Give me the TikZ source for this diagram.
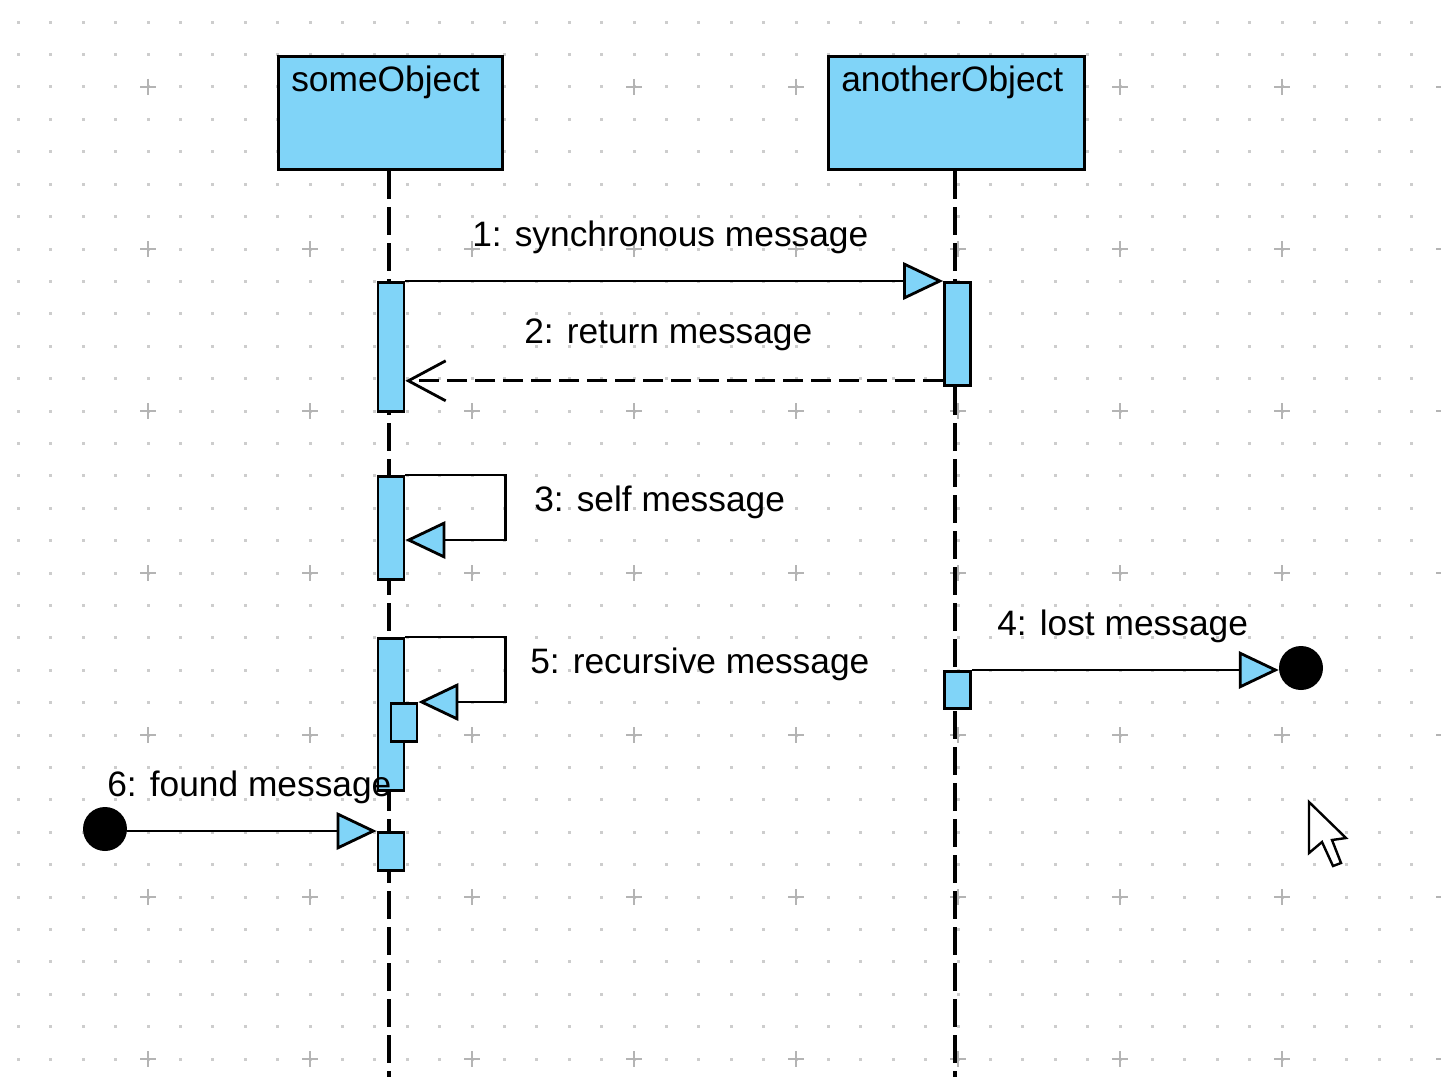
\documentclass[tikz,border=0pt]{standalone}
\usepackage{fontspec}
\setmainfont{Liberation Sans}
\usetikzlibrary{arrows.meta,calc}
\definecolor{umlblue}{RGB}{128,212,248}
\definecolor{griddot}{RGB}{205,205,205}
\definecolor{gridplus}{RGB}{180,180,180}
\begin{document}
\begin{tikzpicture}[x=0.75pt,y=-0.75pt,
  objbox/.style={draw, fill=umlblue, line width=2.4pt, inner sep=0, anchor=north west, minimum height=84.75pt},
  actbar/.style={draw, fill=umlblue, line width=2.1pt, inner sep=0, anchor=north, minimum width=19.5pt},
  lifeline/.style={line width=2.5pt, dash pattern=on 21pt off 6pt},
  msg/.style={line width=2.1pt},
  synctip/.style={-{Triangle[length=30pt,width=28pt,fill=umlblue,line join=miter]}},
  rettip/.style={-{Straight Barb[length=28pt,width=30pt]}},
  enddot/.style={circle, fill=black, inner sep=0, minimum size=33pt},
  lbl/.style={anchor=base west, inner sep=0, font=\fontsize{26.5pt}{31pt}\selectfont}]

% canvas
\useasboundingbox (0,0) rectangle (1441,1077);
\fill[white] (0,0) rectangle (1441,1077);

% background grid: small dots with a cross every fifth step
\foreach \i in {0,...,44}
  \foreach \j in {0,...,32}
    \fill[griddot] ({18.4+32.4*\i-1.5},{22.2+32.4*\j-1.5}) rectangle ++(3,3);
\foreach \i in {0,...,8}
  \foreach \j in {0,...,6}
    \draw[gridplus, line width=1.2pt] ({148+162*\i-8},{87+162*\j}) -- ++(16,0)
                                      ({148+162*\i},{87+162*\j-8}) -- ++(0,16);

% objects
\node[objbox, minimum width=168pt] (someObj) at (277,55) {};
\node[objbox, minimum width=192pt] (anotherObj) at (827,55) {};
\node[lbl] (someObjT) at (291,92) {someObject};
\node[lbl] (anotherObjT) at (841,92) {anotherObject};

% lifelines
\coordinate (someEnd) at (389,1077);
\coordinate (anotherEnd) at (955,1077);
\draw[lifeline] (someObj.south -| someEnd) -- (someEnd);
\draw[lifeline] (anotherObj.south -| anotherEnd) -- (anotherEnd);

% activation bars
\node[actbar, minimum height=96.75pt] (b1) at (391,281) {};
\node[actbar, minimum height=77.25pt] (ab1) at (957.5,281) {};
\node[actbar, minimum height=77.25pt] (b2) at (391,475) {};
\node[actbar, minimum height=114pt] (b3) at (391,637) {};
\node[actbar, minimum height=28.5pt] (b3n) at (404,702) {};
\node[actbar, minimum height=27.75pt] (lb) at (957.5,670) {};
\node[actbar, minimum height=28.5pt] (fb) at (391,831) {};

% found / lost end points
\node[enddot] (lostDot) at (1301,668) {};
\node[enddot] (foundDot) at (105,829) {};

% 1: synchronous message
\draw[msg, synctip] (b1.north east) -- (ab1.north west);
\node[lbl] (t1) at (472,246) {1: synchronous message};

% 2: return message
\draw[msg, dashed, dash pattern=on 15pt off 6pt, rettip]
  ($(ab1.south west)+(0,-6)$) -- ($(ab1.south west -| b1.east)+(0,-6)$);
\node[lbl] (t2) at (524,343) {2: return message};

% 3: self message
\coordinate (s3) at ($(b2.north east)+(0,65)$);
\draw[msg, synctip] (b2.north east) -- ++(100,0) |- (s3);
\node[lbl] (t3) at (534,511) {3: self message};

% 5: recursive message
\draw[msg, synctip] (b3.north east) -- ++(100,0) |- (b3n.north east);
\node[lbl] (t5) at (530,673) {5: recursive message};

% 4: lost message
\draw[msg, synctip] (lb.north east) -- (lb.north east -| lostDot.west);
\node[lbl] (t4) at (997,635) {4: lost message};

% 6: found message
\draw[msg, synctip] (foundDot.east |- fb.north) -- (fb.north west);
\node[lbl] (t6) at (107,796) {6: found message};

% mouse pointer
\draw[line width=1.8pt, fill=white, line join=miter]
  (1309,802) -- (1309,853) -- (1322,842) -- (1333,866) -- (1341,863)
  -- (1332,840) -- (1346,838) -- cycle;
\end{tikzpicture}
\end{document}
